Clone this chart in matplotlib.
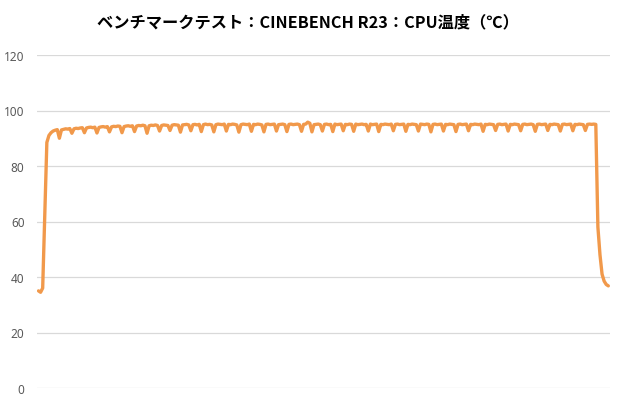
import matplotlib
matplotlib.use("Agg")
import matplotlib.pyplot as plt

title = "ベンチマークテスト：CINEBENCH R23：CPU温度（℃）"
y_ticks = [0, 20, 40, 60, 80, 100, 120]

# CPU temperature samples (°C), in time order
temps = [
    35.0, 34.5, 36.0, 62.0, 88.5, 91.0, 92.0, 92.6, 92.9, 93.1,
    90.0, 93.0, 93.2, 93.4, 93.3, 93.5, 91.8, 93.4, 93.6, 93.5,
    93.7, 93.8, 92.0, 93.7, 93.9, 94.0, 93.8, 94.0, 91.9, 93.9,
    94.1, 94.2, 94.0, 94.2, 92.3, 94.1, 94.3, 94.2, 94.4, 94.3,
    92.0, 94.2, 94.4, 94.5, 94.3, 94.5, 92.4, 94.4, 94.6, 94.5,
    94.7, 94.5, 91.8, 94.5, 94.7, 94.6, 94.8, 94.6, 92.6, 94.6,
    94.8, 94.7, 94.6, 92.8, 94.7, 94.9, 94.8, 94.7, 92.2, 94.8,
    94.9, 95.0, 94.8, 92.7, 94.9, 95.0, 94.8, 95.0, 92.4, 94.9,
    95.1, 94.9, 95.0, 94.8, 92.3, 94.9, 95.1, 95.0, 94.9, 95.1,
    92.6, 95.0, 94.9, 95.1, 95.0, 94.8, 92.2, 94.9, 95.1, 95.0,
    94.9, 95.1, 92.5, 95.0, 94.9, 95.1, 95.0, 94.8, 92.3, 95.0,
    95.1, 94.9, 95.0, 95.1, 92.6, 94.9, 95.0, 95.1, 94.9, 92.4,
    95.0, 95.1, 94.9, 95.0, 95.1, 94.9, 92.5, 95.0, 95.1, 95.8,
    95.4, 92.3, 94.9, 95.0, 95.1, 94.9, 92.6, 95.0, 95.1, 94.9,
    95.0, 92.4, 95.1, 94.9, 95.0, 95.1, 92.7, 95.0, 94.9, 95.1,
    95.0, 92.5, 95.1, 94.9, 95.0, 95.1, 94.9, 95.0, 92.6, 95.1,
    94.9, 95.0, 95.1, 92.4, 95.0, 94.9, 95.1, 95.0, 94.9, 95.1,
    92.7, 95.0, 95.1, 94.9, 95.0, 95.1, 92.5, 95.0, 94.9, 95.1,
    95.0, 94.9, 92.6, 95.1, 95.0, 94.9, 95.1, 95.0, 92.3, 95.0,
    95.1, 94.9, 95.0, 95.1, 92.6, 95.0, 94.9, 95.1, 95.0, 94.9,
    92.4, 95.0, 95.1, 94.9, 95.0, 95.1, 92.7, 95.0, 94.9, 95.1,
    95.0, 94.9, 95.1, 92.5, 95.0, 94.9, 95.1, 95.0, 94.9, 92.8,
    95.0, 95.1, 94.9, 95.0, 95.1, 92.6, 95.0, 94.9, 95.1, 95.0,
    94.9, 92.7, 95.0, 95.1, 94.9, 95.0, 95.1, 94.9, 92.5, 95.0,
    95.1, 94.9, 95.0, 95.1, 92.8, 95.0, 94.9, 95.1, 95.0, 94.9,
    92.6, 95.0, 95.1, 94.9, 95.0, 95.1, 92.7, 95.0, 94.9, 95.1,
    95.0, 94.9, 92.8, 95.0, 95.1, 95.0, 95.1, 95.0, 58.0, 48.0,
    41.0, 38.5, 37.3, 36.8,
]
samples = list(range(len(temps)))

fig = plt.figure(figsize=(6.2, 4.1), dpi=100)
ax = fig.add_axes([37 / 620, 1 - 389 / 410, (610 - 37) / 620, (389 - 56) / 410])

ax.plot(samples, temps, color="#F1994B", lw=2.4, solid_joinstyle="round",
        solid_capstyle="round", zorder=3)

ax.set_ylim(0, 120)
ax.set_xlim(-0.72, 273.8)
ax.set_yticks(y_ticks)
ax.set_yticklabels([str(v) for v in y_ticks], fontsize=8.5, color="#595959",
                   family=["Noto Sans", "DejaVu Sans"])
ax.set_xticks([])
ax.tick_params(axis="y", length=0, pad=9)
ax.grid(axis="y", color="#D9D9D9", lw=0.9)
ax.set_axisbelow(True)
for s in ax.spines.values():
    s.set_visible(False)

fig.text(0.496, 0.946, title, ha="center", va="center", fontsize=11.7,
         fontweight="bold", color="#000000",
         family=["Noto Sans CJK JP", "DejaVu Sans"])

fig.savefig("out.png", dpi=100)
